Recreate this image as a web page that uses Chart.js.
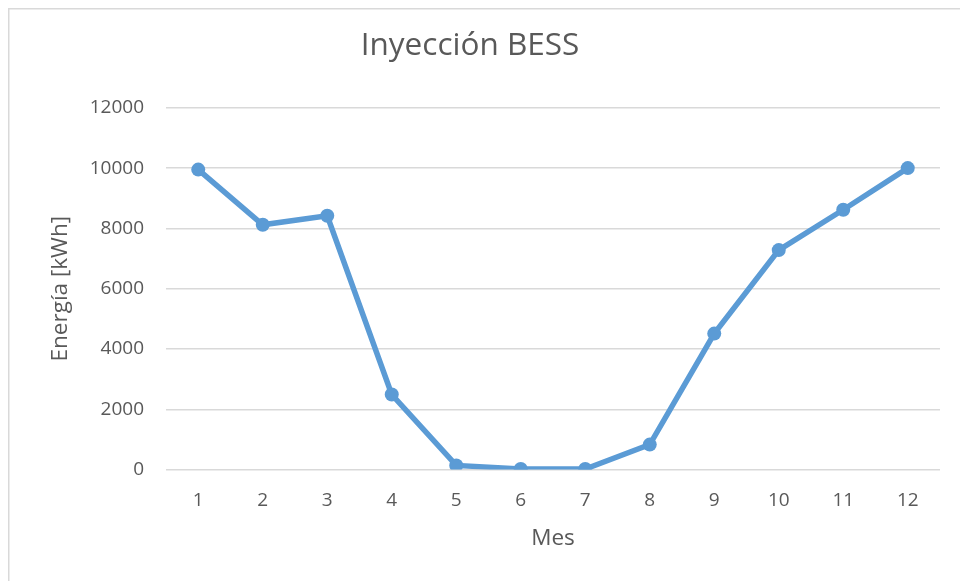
<!DOCTYPE html>
<html>
<head>
<meta charset="utf-8">
<script src="https://cdn.jsdelivr.net/npm/chart.js@4.4.1/dist/chart.umd.min.js"></script>
<style>
  html, body { margin: 0; padding: 0; background: #ffffff; }
  #wrap { position: relative; width: 960px; height: 581px; }
</style>
</head>
<body>
<div id="wrap"><canvas id="c" width="960" height="581"></canvas></div>
<script>
const months = ['1','2','3','4','5','6','7','8','9','10','11','12'];
const energia = [9950, 8120, 8420, 2490, 140, 20, 20, 830, 4510, 7280, 8620, 10000];
const yTicks = [0, 2000, 4000, 6000, 8000, 10000, 12000];
const chartTitle = 'Inyección BESS';
const yTitle = 'Energía [kWh]';
const xTitle = 'Mes';

const textColor = '#595959';
const fontFamily = '"Open Sans", "Liberation Sans", sans-serif';

const framePlugin = {
  id: 'frame',
  beforeDraw(chart) {
    const ctx = chart.ctx;
    ctx.save();
    ctx.fillStyle = '#ffffff';
    ctx.fillRect(0, 0, chart.width, chart.height);
    ctx.strokeStyle = '#D9D9D9';
    ctx.lineWidth = 1.5;
    ctx.beginPath();
    ctx.moveTo(8.75, chart.height);
    ctx.lineTo(8.75, 8.75);
    ctx.lineTo(chart.width, 8.75);
    ctx.stroke();
    ctx.restore();
  }
};

new Chart(document.getElementById('c'), {
  type: 'line',
  data: {
    labels: months,
    datasets: [{
      label: 'Energía',
      data: energia,
      borderColor: '#5B9BD5',
      backgroundColor: '#5B9BD5',
      borderWidth: 5.5,
      pointRadius: 7,
      pointHoverRadius: 7,
      pointBorderWidth: 0,
      tension: 0,
      fill: false
    }]
  },
  options: {
    responsive: false,
    animation: false,
    devicePixelRatio: 1,
    layout: { padding: { left: 0, right: 20, top: 0, bottom: 29 } },
    plugins: {
      legend: { display: false },
      tooltip: { enabled: false },
      title: {
        display: true,
        text: chartTitle,
        color: textColor,
        font: { family: fontFamily, size: 31.5, weight: 'normal', lineHeight: 1.2 },
        padding: { top: 27, bottom: 43 }
      }
    },
    scales: {
      x: {
        type: 'category',
        offset: true,
        grid: { display: false, drawTicks: false },
        border: { display: false },
        ticks: {
          color: textColor,
          font: { family: fontFamily, size: 19 },
          padding: 19.3,
          maxRotation: 0
        },
        title: {
          display: true,
          text: xTitle,
          color: textColor,
          font: { family: fontFamily, size: 22.5 },
          padding: { top: -6, bottom: 0 }
        }
      },
      y: {
        min: 0,
        max: 12000,
        afterFit(scale) { scale.width = 166; },
        afterBuildTicks(scale) { scale.ticks = yTicks.map(v => ({ value: v })); },
        grid: { color: '#D9D9D9', lineWidth: 1.5, drawTicks: false },
        border: { display: false },
        ticks: {
          color: textColor,
          font: { family: fontFamily, size: 19 },
          padding: 22,
          callback: (v) => String(v)
        },
        title: {
          display: true,
          text: yTitle,
          color: textColor,
          font: { family: fontFamily, size: 22.5 },
          padding: { top: 47, bottom: 0 }
        }
      }
    }
  },
  plugins: [framePlugin]
});
</script>
</body>
</html>
